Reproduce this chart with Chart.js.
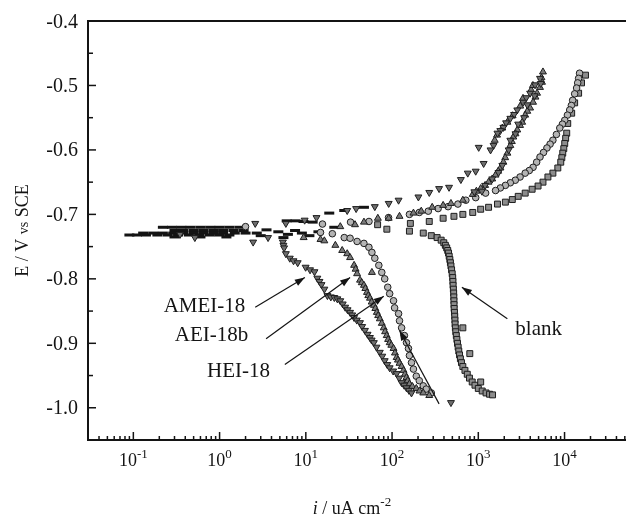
<!DOCTYPE html>
<html>
<head>
<meta charset="utf-8">
<title>Tafel plot</title>
<script src="https://cdn.jsdelivr.net/npm/chart.js@4/dist/chart.umd.min.js"></script>
<style>
  html, body { margin: 0; padding: 0; background: #fff; }
  #wrap { width: 634px; height: 519px; }
</style>
</head>
<body>
<div id="wrap"><canvas id="tafel" width="634" height="519"></canvas></div>
<script>
/* Polarization curves, mild steel with and without inhibitors */

// axis ranges and ticks
const xMin = 0.0298, xMax = 51600;
const yMin = -1.05, yMax = -0.4;
const yMajor = [-0.4, -0.5, -0.6, -0.7, -0.8, -0.9, -1.0];
const yMinor = [-0.45, -0.55, -0.65, -0.75, -0.85, -0.95];
const xDecades = [-1, 0, 1, 2, 3, 4];

// blank (squares): anodic branch from the top, then cathodic branch
const blankI = [17500, 15740, 14560, 13100, 12100, 10890, 10600, 10300, 10050, 9800, 9530, 9300, 9040, 8356, 7325, 6415, 5623, 4930, 4207, 3497, 2904, 2478, 2061, 1668, 1316, 1066, 862, 662, 522, 391, 270, 163, 68, 87, 159,
  230, 285, 333, 371, 398, 415, 430, 442, 452, 460, 468, 475, 482, 490, 498, 505, 508, 510, 514, 518, 520, 522, 523, 525, 529, 533, 536, 538, 542, 548, 556, 565, 574, 584, 594, 606, 620, 638, 662, 700, 745, 790, 850, 915, 1000, 1110, 1230, 1350, 1463,
  662, 797, 1066];
const blankE = [-0.484, -0.496, -0.512, -0.527, -0.543, -0.559, -0.574, -0.582, -0.590, -0.598, -0.605, -0.612, -0.619, -0.628, -0.636, -0.642, -0.650, -0.656, -0.661, -0.667, -0.672, -0.677, -0.681, -0.684, -0.689, -0.692, -0.697, -0.700, -0.703, -0.706, -0.711, -0.714, -0.716, -0.723, -0.726,
  -0.729, -0.733, -0.736, -0.740, -0.744, -0.748, -0.752, -0.756, -0.760, -0.765, -0.770, -0.775, -0.780, -0.786, -0.792, -0.798, -0.804, -0.810, -0.816, -0.822, -0.828, -0.834, -0.840, -0.846, -0.852, -0.858, -0.864, -0.870, -0.876, -0.882, -0.888, -0.894, -0.900, -0.906, -0.912, -0.918, -0.924, -0.930, -0.936, -0.942, -0.948, -0.954, -0.960, -0.965, -0.970, -0.974, -0.977, -0.979, -0.980,
  -0.876, -0.916, -0.960];

// HEI-18 (circles)
const heiI = [14930, 14560, 14200, 13800, 13100, 12420, 12000, 11480, 10800, 10050, 9450, 8810, 8050, 7325, 6800, 6250, 5700, 5195, 4750, 4316, 3900, 3497, 3050, 2685, 2350, 2061, 1800, 1585, 1216, 933, 717, 580, 446, 342, 263, 207, 159, 91, 54, 33, 15.6, 2.0,
  14.8, 20.3, 27.9, 32.6, 39.3, 47.2, 53.9, 58.4, 63.1, 70.2, 76.0, 82.2, 89.1, 93.8, 104, 107, 119, 122, 129, 139, 147, 155, 159, 168, 177, 191, 207, 230, 249, 285];
const heiE = [-0.481, -0.489, -0.496, -0.504, -0.513, -0.523, -0.531, -0.538, -0.546, -0.554, -0.560, -0.566, -0.576, -0.585, -0.591, -0.597, -0.604, -0.611, -0.619, -0.627, -0.632, -0.636, -0.642, -0.647, -0.651, -0.655, -0.659, -0.663, -0.667, -0.674, -0.678, -0.684, -0.688, -0.691, -0.695, -0.697, -0.700, -0.705, -0.711, -0.712, -0.715, -0.719,
  -0.728, -0.730, -0.736, -0.737, -0.742, -0.745, -0.751, -0.759, -0.768, -0.779, -0.790, -0.800, -0.813, -0.823, -0.834, -0.845, -0.854, -0.865, -0.876, -0.888, -0.899, -0.908, -0.919, -0.930, -0.940, -0.951, -0.958, -0.966, -0.971, -0.977];

// AEI-18b (up triangles)
const aeiI = [5623, 5480, 5400, 5195, 4800, 4600, 4316, 3990, 3700, 3497, 3228, 3050, 2831, 2700, 2547, 2450, 2353, 2173, 2050, 1955, 1807, 1700, 1585, 1450, 1316, 1200, 1066, 950, 862, 662, 482, 391, 292, 218, 177, 122, 91.4, 68.4, 47.2, 37.2, 25.1,
  1550, 1650, 1900, 2173, 2500, 3062, 3300, 4100, 4300,
  9.44, 14.8, 16.4, 22.0, 26.4, 30.2, 32.6, 36.3, 37.8, 39.3, 42.5, 44.5, 47.2, 49, 51.2, 53, 55.4, 58, 61.5, 64, 66.6, 69, 72.1, 76, 80.1, 83, 86.7, 90, 93.8, 98, 104, 108, 113, 117, 122, 129, 136, 141, 147, 152, 159, 172, 191, 208, 230, 270,
  58.4];
const aeiE = [-0.479, -0.495, -0.488, -0.503, -0.512, -0.518, -0.526, -0.535, -0.540, -0.546, -0.557, -0.562, -0.569, -0.575, -0.580, -0.587, -0.593, -0.605, -0.612, -0.619, -0.628, -0.633, -0.639, -0.645, -0.650, -0.655, -0.660, -0.664, -0.669, -0.678, -0.683, -0.686, -0.689, -0.695, -0.698, -0.703, -0.706, -0.706, -0.712, -0.716, -0.719,
  -0.585, -0.577, -0.566, -0.557, -0.547, -0.532, -0.520, -0.507, -0.500,
  -0.736, -0.739, -0.741, -0.748, -0.756, -0.761, -0.767, -0.779, -0.785, -0.792, -0.802, -0.806, -0.810, -0.815, -0.821, -0.826, -0.830, -0.836, -0.841, -0.846, -0.852, -0.857, -0.862, -0.869, -0.876, -0.882, -0.888, -0.894, -0.899, -0.903, -0.908, -0.915, -0.922, -0.926, -0.931, -0.936, -0.942, -0.948, -0.953, -0.958, -0.963, -0.967, -0.970, -0.974, -0.977, -0.981,
  -0.790];

// AMEI-18 (down triangles)
const ameiI = [5195, 4550, 3990, 3600, 3318, 2831, 2600, 2353, 2100, 1955, 1800, 1668, 1503, 1387, 1153, 1011, 933, 755, 628, 458, 351, 270, 202, 119, 91.4, 63.1, 38.3, 30.2, 13.3, 9.69, 5.87,
  1714, 2353, 2900, 3700, 1200, 900, 1100, 1450, 1900, 2250, 2700, 3400, 4500, 5300,
  2.59, 0.348, 0.517, 2.45, 3.65,
  5.42, 5.5, 5.6, 5.87, 6.52, 7.2, 8.05, 9.95, 11.2, 12.6, 13.6, 14.4, 15.2, 16.4, 17.8, 19.5, 21.4, 23.2, 25.1, 26.8, 28.6, 30.5, 32.6, 34.5, 36.3, 39, 42.5, 45, 48.5, 52, 55.4, 58, 61.5, 66, 72.1, 77, 82.2, 88, 93.8, 103, 113, 121, 129, 138, 147, 157, 168,
  482];
const ameiE = [-0.489, -0.499, -0.512, -0.519, -0.526, -0.538, -0.545, -0.551, -0.558, -0.565, -0.570, -0.574, -0.593, -0.600, -0.621, -0.596, -0.633, -0.636, -0.646, -0.658, -0.660, -0.666, -0.673, -0.678, -0.683, -0.688, -0.691, -0.694, -0.705, -0.709, -0.714,
  -0.635, -0.585, -0.560, -0.530, -0.655, -0.665, -0.664, -0.645, -0.624, -0.600, -0.575, -0.550, -0.516, -0.497,
  -0.714, -0.731, -0.736, -0.743, -0.736,
  -0.743, -0.748, -0.752, -0.761, -0.768, -0.772, -0.775, -0.782, -0.786, -0.789, -0.799, -0.804, -0.809, -0.816, -0.826, -0.828, -0.829, -0.831, -0.834, -0.839, -0.844, -0.848, -0.852, -0.856, -0.860, -0.864, -0.868, -0.874, -0.880, -0.886, -0.891, -0.895, -0.899, -0.906, -0.914, -0.920, -0.927, -0.933, -0.938, -0.943, -0.947, -0.954, -0.961, -0.965, -0.969, -0.973, -0.977,
  -0.992];

// scattered readings around Ecorr and the dashed Tafel segment, drawn as short dashes
const dashI = [0.22, 0.28, 0.36, 0.46, 0.6, 0.78, 1.0, 1.3, 1.7,
  0.3, 0.38, 0.5, 0.65, 0.85, 1.1, 1.45, 1.9,
  0.13, 0.17, 0.22, 0.29, 0.38, 0.5, 0.65, 0.85, 1.1, 1.5, 2.0, 2.7,
  0.09, 0.11, 0.14, 0.19, 0.25, 0.33, 0.44, 0.58, 0.77, 1.0, 1.3,
  0.3, 0.6, 1.2,
  3.5, 4.8, 6.2, 3.0, 5.5, 7.5, 9.0, 11, 14, 6.0, 7.6, 9.4, 12,
  18.7, 27.9, 47.2, 21.4];
const dashE = [-0.720, -0.720, -0.720, -0.720, -0.720, -0.720, -0.720, -0.720, -0.720,
  -0.725, -0.725, -0.725, -0.725, -0.725, -0.725, -0.725, -0.725,
  -0.729, -0.729, -0.729, -0.729, -0.729, -0.729, -0.729, -0.729, -0.729, -0.729, -0.729, -0.729,
  -0.732, -0.732, -0.732, -0.732, -0.732, -0.732, -0.732, -0.732, -0.732, -0.732, -0.732,
  -0.735, -0.735, -0.735,
  -0.724, -0.727, -0.731, -0.733, -0.736, -0.725, -0.729, -0.733, -0.727, -0.710, -0.710, -0.711, -0.712,
  -0.698, -0.694, -0.689, -0.720];

// labels with their arrows: text anchor, arrow tail, arrow head (current, potential)
const notes = [
  { text: 'AMEI-18', align: 'right', pos: [1.99, -0.841], tail: [2.59, -0.844], head: [9.75, -0.798] },
  { text: 'AEI-18b', align: 'right', pos: [2.15, -0.885], tail: [3.46, -0.893], head: [32.6, -0.798] },
  { text: 'HEI-18', align: 'right', pos: [3.85, -0.942], tail: [5.71, -0.933], head: [80.1, -0.827] },
  { text: 'blank', align: 'left', pos: [2685, -0.877], tail: [2173, -0.862], head: [645, -0.813] },
  { text: '', align: 'left', pos: [351, -0.994], tail: [351, -0.994], head: [122, -0.880] }
];

const serif = '"Liberation Serif", "Times New Roman", serif';
const ink = '#141414';

function pts(xs, ys) {
  return xs.map((x, k) => ({ x: x, y: ys[k] }));
}

function seg(ctx, x1, y1, x2, y2) {
  ctx.beginPath();
  ctx.moveTo(x1, y1);
  ctx.lineTo(x2, y2);
  ctx.stroke();
}

function arrow(ctx, x1, y1, x2, y2) {
  seg(ctx, x1, y1, x2, y2);
  const a = Math.atan2(y2 - y1, x2 - x1), len = 10, half = 3.5;
  const bx = x2 - len * Math.cos(a), by = y2 - len * Math.sin(a);
  ctx.beginPath();
  ctx.moveTo(x2, y2);
  ctx.lineTo(bx + half * Math.sin(a), by - half * Math.cos(a));
  ctx.lineTo(bx - half * Math.sin(a), by + half * Math.cos(a));
  ctx.closePath();
  ctx.fill();
}

// frame, inward ticks, tick labels, axis titles and the curve labels
const framePlugin = {
  id: 'framePlugin',
  afterDraw(chart) {
    const { ctx, chartArea: a } = chart;
    const x = chart.scales.x, y = chart.scales.y;
    ctx.save();
    ctx.strokeStyle = ink;
    ctx.fillStyle = ink;

    ctx.lineWidth = 2;
    ctx.beginPath();
    ctx.moveTo(a.right, a.top);
    ctx.lineTo(a.left, a.top);
    ctx.lineTo(a.left, a.bottom);
    ctx.lineTo(a.right, a.bottom);
    ctx.stroke();

    // y ticks
    ctx.lineWidth = 1.5;
    yMajor.forEach(v => { const py = y.getPixelForValue(v); seg(ctx, a.left, py, a.left + 8, py); });
    yMinor.forEach(v => { const py = y.getPixelForValue(v); seg(ctx, a.left, py, a.left + 5, py); });

    // x ticks, decades and 2..9 in between
    for (let d = -2; d <= 4; d++) {
      for (let m = 1; m <= 9; m++) {
        const v = m * Math.pow(10, d);
        if (v <= xMin || v >= xMax) continue;
        const px = x.getPixelForValue(v);
        seg(ctx, px, a.bottom, px, a.bottom - (m === 1 ? 8 : 4));
      }
    }

    // y tick labels
    ctx.font = '20px ' + serif;
    ctx.textAlign = 'right';
    ctx.textBaseline = 'alphabetic';
    yMajor.forEach(v => ctx.fillText(v.toFixed(1), a.left - 10, y.getPixelForValue(v) + 6.5));

    // x tick labels as 10 with a raised exponent
    ctx.textAlign = 'left';
    xDecades.forEach(d => {
      const px = x.getPixelForValue(Math.pow(10, d));
      ctx.font = '18px ' + serif;
      const w1 = ctx.measureText('10').width;
      ctx.font = '13px ' + serif;
      const w2 = ctx.measureText(String(d)).width;
      const x0 = px - (w1 + w2) / 2;
      ctx.font = '18px ' + serif;
      ctx.fillText('10', x0, a.bottom + 26);
      ctx.font = '13px ' + serif;
      ctx.fillText(String(d), x0 + w1, a.bottom + 18);
    });

    // x title: i / uA cm-2
    const parts = [
      { t: 'i', f: 'italic 18px ' + serif, dy: 0 },
      { t: ' / uA cm', f: '18px ' + serif, dy: 0 },
      { t: '-2', f: '13px ' + serif, dy: -8 }
    ];
    let total = 0;
    parts.forEach(p => { ctx.font = p.f; p.w = ctx.measureText(p.t).width; total += p.w; });
    let cx = 352 - total / 2;
    parts.forEach(p => { ctx.font = p.f; ctx.fillText(p.t, cx, 514 + p.dy); cx += p.w; });

    // y title: E / V vs SCE, rotated
    const yparts = [
      { t: 'E / V ', f: '18px ' + serif },
      { t: 'vs', f: '14px ' + serif },
      { t: ' SCE', f: '18px ' + serif }
    ];
    total = 0;
    yparts.forEach(p => { ctx.font = p.f; p.w = ctx.measureText(p.t).width; total += p.w; });
    ctx.save();
    ctx.translate(28, (a.top + a.bottom) / 2);
    ctx.rotate(-Math.PI / 2);
    cx = -total / 2;
    yparts.forEach(p => { ctx.font = p.f; ctx.fillText(p.t, cx, 0); cx += p.w; });
    ctx.restore();

    // curve labels and arrows
    ctx.lineWidth = 1.2;
    ctx.font = '21px ' + serif;
    notes.forEach(n => {
      const tx = x.getPixelForValue(n.tail[0]), ty = y.getPixelForValue(n.tail[1]);
      const hx = x.getPixelForValue(n.head[0]), hy = y.getPixelForValue(n.head[1]);
      arrow(ctx, tx, ty, hx, hy);
      if (n.text) {
        ctx.textAlign = n.align;
        ctx.fillText(n.text, x.getPixelForValue(n.pos[0]), y.getPixelForValue(n.pos[1]) + 7);
      }
    });
    ctx.restore();
  }
};

const marker = { borderColor: '#1e1e1e', borderWidth: 1, showLine: false };

new Chart(document.getElementById('tafel'), {
  type: 'scatter',
  data: {
    datasets: [
      Object.assign({ label: 'AMEI-18', data: pts(ameiI, ameiE), pointStyle: 'triangle', pointRotation: 180, pointRadius: 4, backgroundColor: '#6e6e6e' }, marker),
      Object.assign({ label: 'AEI-18b', data: pts(aeiI, aeiE), pointStyle: 'triangle', pointRadius: 4, backgroundColor: '#7a7a7a' }, marker),
      Object.assign({ label: 'HEI-18', data: pts(heiI, heiE), pointStyle: 'circle', pointRadius: 3.3, backgroundColor: '#b4b4b4' }, marker),
      Object.assign({ label: 'blank', data: pts(blankI, blankE), pointStyle: 'rect', pointRadius: 4.2, backgroundColor: '#8c8c8c' }, marker),
      { label: 'scatter', data: pts(dashI, dashE), pointStyle: 'line', pointRadius: 5, borderColor: ink, borderWidth: 3, showLine: false }
    ]
  },
  options: {
    responsive: false,
    animation: false,
    devicePixelRatio: 1,
    layout: { padding: { left: 88, top: 21, right: 2, bottom: 79 } },
    plugins: { legend: { display: false }, tooltip: { enabled: false } },
    scales: {
      x: { type: 'logarithmic', min: xMin, max: xMax, display: false },
      y: { type: 'linear', min: yMin, max: yMax, display: false }
    }
  },
  plugins: [framePlugin]
});
</script>
</body>
</html>
